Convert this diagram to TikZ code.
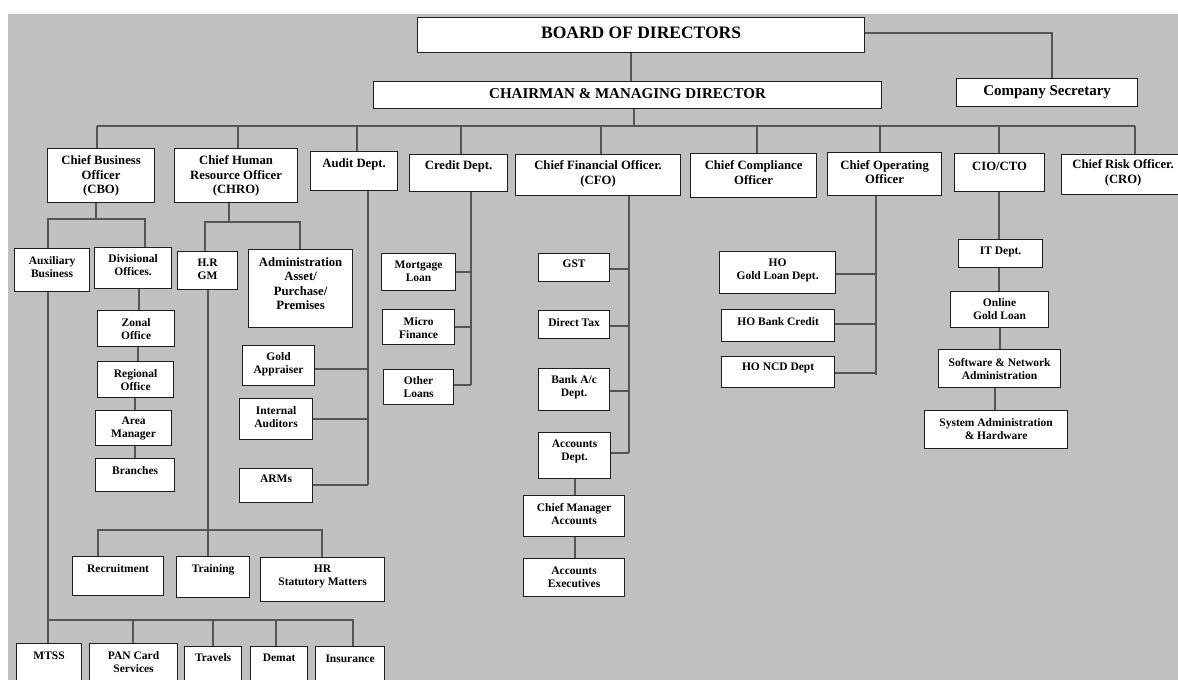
\documentclass[tikz,border=0pt]{standalone}
\usepackage{fontspec}
\setmainfont{Liberation Serif}
\definecolor{bgc}{RGB}{192,192,192}
\definecolor{linec}{RGB}{85,85,85}
\definecolor{boxc}{RGB}{30,30,30}
\newcommand\fA{\fontsize{17.5}{20}\selectfont\bfseries}
\newcommand\fB{\fontsize{15}{17}\selectfont\bfseries}
\newcommand\fC{\fontsize{12.7}{14.5}\selectfont\bfseries}
\newcommand\fD{\fontsize{11.5}{13}\selectfont\bfseries}
\tikzset{
  box/.style={draw=boxc, fill=white, line width=1.2pt, inner sep=0pt, anchor=north west},
  txt/.style={inner sep=0pt, align=center, text=black},
  conn/.style={draw=linec, line width=1.3pt},
}
\newcommand\bx[8]{%
  \node[box, minimum width={#4-#2}, minimum height={#5-#3}] (#1) at (#2,#3) {};
  \path (#1.north) ++(0,{#6-#3}) node[txt, font=#7] (#1t) {#8};
}
\begin{document}
\begin{tikzpicture}[x=1pt,y=-1pt]
\useasboundingbox (0,0) rectangle (1178,680);
\fill[white] (0,0) rectangle (1178,680);
\fill[bgc] (8,14) rectangle (1178,680);

% top levels
\bx{bod}{417}{17}{864}{52}{33}{\fA}{BOARD OF DIRECTORS}
\bx{cmd}{373}{81}{881}{108}{94}{\fB}{CHAIRMAN \& MANAGING DIRECTOR}
\bx{cs}{956}{78}{1137}{106}{92}{\fB}{Company Secretary}

% second row
\bx{cbo}{47}{148}{154}{202}{176}{\fC}{Chief Business\\Officer\\(CBO)}
\bx{chro}{174}{148}{297}{202}{176}{\fC}{Chief Human\\Resource Officer\\(CHRO)}
\bx{audit}{310}{151}{397}{190}{164}{\fC}{Audit Dept.}
\bx{credit}{409}{154}{507}{191}{166}{\fC}{Credit Dept.}
\bx{cfo}{515}{154}{680}{195}{174}{\fC}{Chief Financial Officer.\\(CFO)}
\bx{cco}{690}{153}{816}{197}{172.5}{\fC}{Chief Compliance\\Officer}
\bx{coo}{827}{152}{941}{195}{172}{\fC}{Chief Operating\\Officer}
\bx{cio}{954}{153}{1044}{191}{166}{\fC}{CIO/CTO}
\bx{cro}{1061}{154}{1184}{194}{173}{\fC}{Chief Risk Officer.\\(CRO)}

% CBO branch
\bx{aux}{14}{248}{89}{291}{267}{\fD}{Auxiliary\\Business}
\bx{div}{94}{247}{171}{288}{265}{\fD}{Divisional\\Offices.}
\bx{zonal}{97}{310}{174}{346}{329}{\fD}{Zonal\\Office}
\bx{regional}{97}{361}{173}{397}{380}{\fD}{Regional\\Office}
\bx{area}{95}{410}{171}{445}{428.5}{\fD}{Area\\Manager}
\bx{branches}{95}{458}{174}{491}{470.5}{\fD}{Branches}

% CHRO branch
\bx{hrgm}{177}{251}{237}{289}{269}{\fD}{H.R\\GM}
\bx{admin}{248}{249}{352}{327}{283.5}{\fC}{Administration\\Asset/\\Purchase/\\Premises}
\bx{rec}{72}{556}{163}{595}{569}{\fD}{Recruitment}
\bx{train}{176}{556}{249}{597}{569.5}{\fD}{Training}
\bx{hrsm}{260}{557}{384}{601}{576.5}{\fD}{HR\\Statutory Matters}

% Audit branch
\bx{gold}{242}{345}{314}{385}{364}{\fD}{Gold\\Appraiser}
\bx{ia}{239}{398}{312}{439}{417}{\fD}{Internal\\Auditors}
\bx{arms}{239}{468}{312}{502}{479}{\fD}{ARMs}

% Credit branch
\bx{mort}{381}{253}{455}{290}{271.5}{\fD}{Mortgage\\Loan}
\bx{micro}{382}{309}{454}{344}{328}{\fD}{Micro\\Finance}
\bx{other}{383}{369}{453}{404}{387.5}{\fD}{Other\\Loans}

% CFO branch
\bx{gst}{538}{253}{609}{281}{264}{\fD}{GST}
\bx{dtax}{538}{310}{609}{338}{322.5}{\fD}{Direct Tax}
\bx{bank}{538}{368}{609}{410}{387}{\fD}{Bank A/c\\Dept.}
\bx{accd}{538}{432}{610}{478}{451.5}{\fD}{Accounts\\Dept.}
\bx{cma}{523}{495}{624}{536}{514}{\fD}{Chief Manager\\Accounts}
\bx{ae}{523}{558}{624}{596}{577}{\fD}{Accounts\\Executives}

% COO branch
\bx{hogl}{719}{251}{835}{293}{270}{\fD}{HO\\Gold Loan Dept.}
\bx{hobc}{721}{309}{834}{341}{322}{\fD}{HO Bank Credit}
\bx{honcd}{721}{356}{834}{387}{368}{\fD}{HO NCD Dept}

% CIO branch
\bx{it}{958}{239}{1042}{267}{252}{\fD}{IT Dept.}
\bx{ogl}{950}{291}{1048}{327}{309}{\fD}{Online\\Gold Loan}
\bx{sna}{938}{349}{1060}{387}{369}{\fD}{Software \& Network\\Administration}
\bx{sah}{924}{410}{1067}{448}{429.5}{\fD}{System Administration\\\& Hardware}

% bottom row
\bx{mtss}{16}{643}{81}{690}{656}{\fD}{MTSS}
\bx{pan}{89}{643}{177}{690}{662}{\fD}{PAN Card\\Services}
\bx{trav}{184}{646}{241}{690}{657.5}{\fD}{Travels}
\bx{demat}{250}{646}{307}{690}{657.5}{\fD}{Demat}
\bx{ins}{315}{646}{384}{690}{659}{\fD}{Insurance}

% ---------- connectors ----------
\coordinate (busL) at (97,126);
\coordinate (busR) at (1135,126);
\draw[conn] (bod.south -| 631,0) -- (cmd.north -| 631,0);
\draw[conn] (bod.east |- 0,33) -- (1052,33) -- (cs.north -| 1052,0);
\draw[conn] (cmd.south -| 634,0) -- (634,126);
\draw[conn] (busL) -- (busR);
\draw[conn] (busL) -- (cbo.north -| busL);
\draw[conn] (238,126) -- (chro.north -| 238,0);
\draw[conn] (357,126) -- (audit.north -| 357,0);
\draw[conn] (461,126) -- (credit.north -| 461,0);
\draw[conn] (601,126) -- (cfo.north -| 601,0);
\draw[conn] (757,126) -- (cco.north -| 757,0);
\draw[conn] (880,126) -- (coo.north -| 880,0);
\draw[conn] (999,126) -- (cio.north -| 999,0);
\draw[conn] (busR) -- (cro.north -| busR);

% CBO
\draw[conn] (cbo.south -| 96,0) -- (96,219);
\draw[conn] (aux.north -| 48,0) -- (48,219) -- (145,219) -- (div.north -| 145,0);
\draw[conn] (aux.south -| 48,0) -- (48,620) -- (mtss.north -| 48,0);
\draw[conn] (48,620) -- (353,620) -- (ins.north -| 353,0);
\draw[conn] (133,620) -- (pan.north -| 133,0);
\draw[conn] (213,620) -- (trav.north -| 213,0);
\draw[conn] (276,620) -- (demat.north -| 276,0);
\draw[conn] (div.south -| 139,0) -- (zonal.north -| 139,0);
\draw[conn] (zonal.south -| 138,0) -- (regional.north -| 138,0);
\draw[conn] (regional.south -| 135,0) -- (area.north -| 135,0);
\draw[conn] (area.south -| 135,0) -- (branches.north -| 135,0);

% CHRO
\draw[conn] (chro.south -| 229,0) -- (229,222);
\draw[conn] (hrgm.north -| 205,0) -- (205,222) -- (300,222) -- (admin.north -| 300,0);
\draw[conn] (hrgm.south -| 208,0) -- (208,530) -- (train.north -| 208,0);
\draw[conn] (rec.north -| 98,0) -- (98,530) -- (322,530) -- (hrsm.north -| 322,0);

% Audit
\draw[conn] (audit.south -| 368,0) -- (368,485);
\draw[conn] (gold.east |- 0,369) -- (368,369);
\draw[conn] (ia.east |- 0,419) -- (368,419);
\draw[conn] (arms.east |- 0,485) -- (368,485);

% Credit
\draw[conn] (credit.south -| 471,0) -- (471,385);
\draw[conn] (mort.east |- 0,272) -- (471,272);
\draw[conn] (micro.east |- 0,327) -- (471,327);
\draw[conn] (other.east |- 0,385) -- (471,385);

% CFO
\draw[conn] (cfo.south -| 629,0) -- (629,453);
\draw[conn] (gst.east |- 0,269) -- (629,269);
\draw[conn] (dtax.east |- 0,326) -- (629,326);
\draw[conn] (bank.east |- 0,391) -- (629,391);
\draw[conn] (accd.east |- 0,453) -- (629,453);
\draw[conn] (accd.south -| 575,0) -- (cma.north -| 575,0);
\draw[conn] (cma.south -| 575,0) -- (ae.north -| 575,0);

% COO
\draw[conn] (coo.south -| 876,0) -- (876,375);
\draw[conn] (hogl.east |- 0,274) -- (876,274);
\draw[conn] (hobc.east |- 0,324) -- (876,324);
\draw[conn] (honcd.east |- 0,373) -- (876,373);

% CIO
\draw[conn] (cio.south -| 999,0) -- (it.north -| 999,0);
\draw[conn] (it.south -| 999,0) -- (ogl.north -| 999,0);
\draw[conn] (ogl.south -| 1000,0) -- (sna.north -| 1000,0);
\draw[conn] (sna.south -| 995,0) -- (sah.north -| 995,0);
\end{tikzpicture}
\end{document}
